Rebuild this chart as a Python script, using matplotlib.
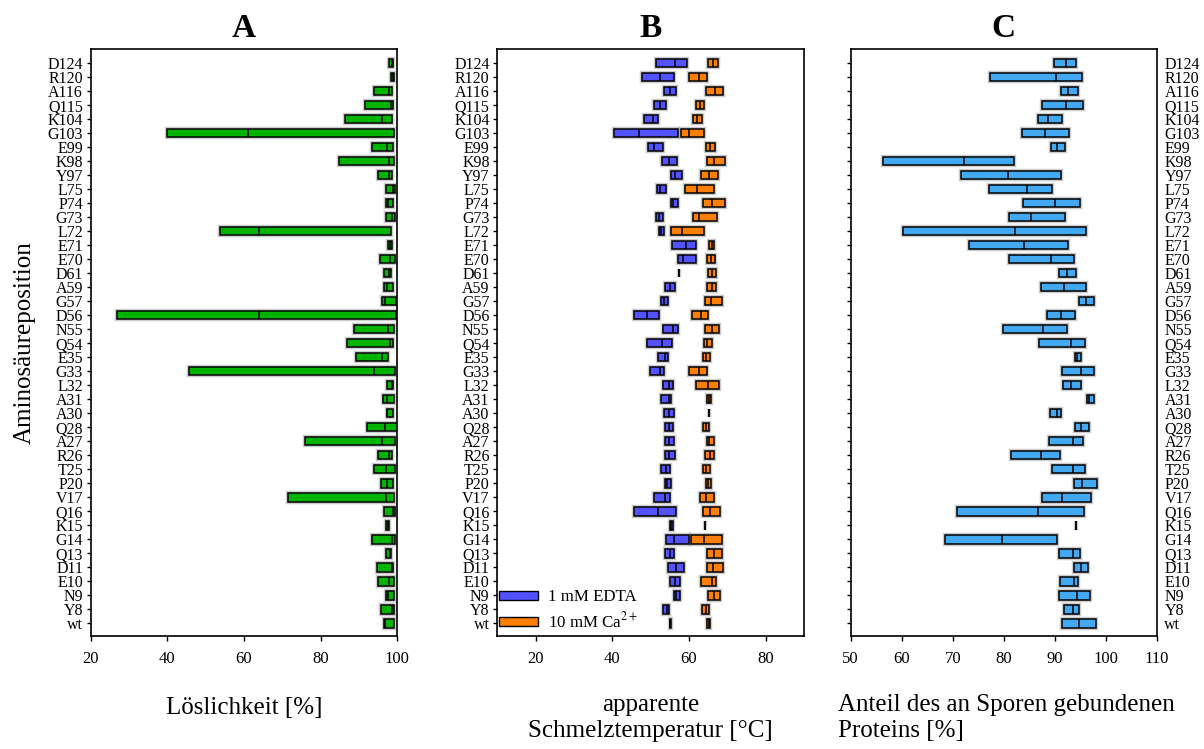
import matplotlib
matplotlib.use("Agg")
import matplotlib.pyplot as plt
import numpy as np

plt.rcParams['font.family'] = ['Liberation Serif', 'DejaVu Serif']
plt.rcParams['mathtext.fontset'] = 'stix'

categories = ["D124","R120","A116","Q115","K104","G103","E99","K98","Y97","L75","P74","G73","L72",
              "E71","E70","D61","A59","G57","D56","N55","Q54","E35","G33","L32","A31","A30","Q28",
              "A27","R26","T25","P20","V17","Q16","K15","G14","Q13","D11","E10","N9","Y8","wt"]

# Panel A: Löslichkeit [%] (low, median, high)
sol_low = [97.8,98.3,93.8,91.7,86.4,39.9,93.3,84.9,95.0,97.0,97.1,97.0,53.8,97.7,95.4,96.4,96.6,95.9,26.9,88.6,87.0,
           89.2,45.6,97.2,96.3,97.2,92.0,76.0,95.0,93.8,95.8,71.6,96.6,97.1,93.5,97.0,94.7,95.0,97.0,95.8,96.4]
sol_med = [98.7,99.0,97.8,98.3,96.0,61.1,97.4,97.9,97.9,98.8,97.5,98.6,63.9,98.2,98.2,97.9,97.3,96.8,63.8,97.5,98.2,
           95.9,93.9,98.6,97.4,97.4,96.9,96.1,97.9,97.0,97.4,97.1,98.9,97.5,98.6,98.0,98.6,97.9,97.6,98.7,96.9]
sol_high = [99.0,99.2,98.6,98.9,98.6,99.1,98.8,99.1,98.6,99.3,99.0,99.3,98.4,98.7,99.5,98.3,98.9,99.6,99.6,99.2,99.0,
            97.7,99.3,99.0,99.1,99.0,99.8,99.3,98.6,99.5,98.8,99.1,99.5,97.8,99.3,98.4,98.8,99.1,99.1,99.2,99.1]

# Panel B: apparent melting temperature, 1 mM EDTA
edta_low = [51.5,47.8,53.6,51.0,48.2,40.4,49.3,53.0,55.3,51.7,55.3,51.3,52.3,55.6,57.1,57.5,53.8,52.6,45.7,53.1,49.1,
            52.0,49.9,53.3,52.7,53.6,53.8,53.7,53.7,52.7,53.8,51.0,45.7,55.1,54.1,53.8,54.4,55.1,56.0,53.3,55.0]
edta_med = [56.4,52.4,55.1,52.4,50.5,47.0,50.8,54.7,56.4,52.5,55.8,52.2,52.8,59.2,58.4,57.5,55.1,53.4,49.1,55.7,53.0,
            53.8,52.4,54.7,54.7,54.8,54.7,54.7,54.8,53.9,54.3,53.7,51.8,55.4,56.0,55.0,56.7,56.4,56.5,54.2,55.1]
edta_high = [59.4,56.2,56.5,53.9,52.0,57.1,53.2,57.0,58.3,54.1,57.1,53.3,53.4,61.8,61.8,57.5,56.3,54.5,52.1,57.2,55.5,
             54.5,53.4,55.9,55.4,56.2,55.7,56.0,56.3,55.1,55.2,55.1,56.5,55.7,59.9,56.1,58.7,57.6,57.7,54.9,55.2]

# Panel B: 10 mM Ca2+
ca_low = [64.9,60.1,64.5,61.9,61.1,57.9,64.4,64.6,63.2,59.0,63.7,61.1,55.4,65.3,64.8,65.0,64.8,64.3,60.8,64.3,64.0,
          63.7,60.1,61.9,64.8,65.3,63.7,64.6,64.3,63.7,64.5,62.8,63.7,64.3,60.5,64.7,64.8,63.1,65.0,63.3,64.8]
ca_med = [66.2,62.5,66.7,62.8,62.1,60.1,65.4,66.4,65.3,62.0,65.9,62.6,58.3,65.9,65.8,66.1,65.9,65.7,63.1,65.9,64.6,
          64.4,62.5,64.9,65.2,65.3,64.5,65.2,65.5,64.5,64.9,64.4,65.5,64.3,63.9,66.6,66.3,65.9,66.5,64.5,65.2]
ca_high = [67.5,64.6,68.8,63.9,63.3,63.8,66.9,69.5,67.5,66.5,69.5,67.2,63.9,66.5,66.9,67.1,67.1,68.7,65.0,67.7,66.1,
           65.4,64.7,67.8,65.8,65.3,65.3,66.4,66.5,65.6,65.7,66.4,68.2,64.3,68.7,68.5,69.0,67.1,68.0,65.3,65.5]

# Panel C: spore-bound protein fraction [%]
bound_low = [89.9,77.4,91.3,87.6,86.8,83.5,89.3,56.4,71.6,77.2,83.8,81.1,60.3,73.1,81.1,90.8,87.3,94.7,88.5,79.9,87.0,
             93.9,91.5,91.7,96.3,89.1,93.9,88.8,81.5,89.5,93.7,87.6,70.9,94.2,68.5,90.9,93.8,91.0,90.9,91.8,91.5]
bound_med = [92.2,90.3,92.7,92.2,88.7,88.0,90.4,72.3,80.9,84.6,90.1,85.4,82.3,84.0,89.3,92.4,91.8,96.2,91.3,87.7,93.1,
             94.4,95.2,93.1,96.7,90.4,95.1,93.5,87.3,93.5,95.4,91.4,86.7,94.2,79.6,93.5,95.2,93.7,94.3,93.5,94.8]
bound_high = [94.2,95.4,94.6,95.6,91.4,92.9,92.1,82.0,91.3,89.4,95.0,92.1,96.2,92.7,93.8,94.2,96.2,97.8,93.9,92.4,96.0,
              95.2,97.8,95.2,97.8,91.3,96.8,95.5,91.0,95.9,98.3,97.1,95.8,94.2,90.5,94.9,96.6,94.6,96.9,94.7,98.0]

series_labels = ["1 mM EDTA", r"10 mM Ca$^{2+}$"]
titles = ["A", "B", "C"]

W, H = 1204, 749
fig = plt.figure(figsize=(W / 100, H / 100), dpi=100)

def fx(px):
    return px / W

def fy(py):
    return 1 - py / H

ax_top, ax_bot = 49.3, 636.0
axA = fig.add_axes([fx(90.7), fy(ax_bot), (397.3 - 90.7) / W, (ax_bot - ax_top) / H])
axB = fig.add_axes([fx(497.3), fy(ax_bot), (804.0 - 497.3) / W, (ax_bot - ax_top) / H])
axC = fig.add_axes([fx(850.7), fy(ax_bot), (1156.7 - 850.7) / W, (ax_bot - ax_top) / H])

n = len(categories)
ypos = np.arange(n)[::-1]
BH = 0.6


def draw(ax, low, med, high, color):
    low = np.array(low); med = np.array(med); high = np.array(high)
    ax.barh(ypos, high - low, left=low, height=BH, color='none',
            edgecolor=(0.5, 0.5, 0.5, 0.4), linewidth=3.2, zorder=2)
    ax.barh(ypos, high - low, left=low, height=BH, color=color,
            edgecolor='black', linewidth=1.1, zorder=3)
    ax.vlines(med, ypos - BH / 2, ypos + BH / 2, color='black', linewidth=1.1, zorder=4)


draw(axA, sol_low, sol_med, sol_high, '#00b400')
draw(axB, edta_low, edta_med, edta_high, '#5252ff')
draw(axB, ca_low, ca_med, ca_high, '#ff8000')
draw(axC, bound_low, bound_med, bound_high, '#42a8f2')

axA.set_xlim(20, 100)
axA.set_xticks([20, 40, 60, 80, 100])
axB.set_xlim(10, 90)
axB.set_xticks([20, 40, 60, 80])
axC.set_xlim(50, 110)
axC.set_xticks([50, 60, 70, 80, 90, 100, 110])

for ax, t in zip([axA, axB, axC], titles):
    ax.set_ylim(-0.9, 40.98)
    ax.set_yticks(ypos)
    ax.set_yticklabels(categories)
    for s in ax.spines.values():
        s.set_linewidth(1.2)
    ax.tick_params(axis='x', direction='out', length=3.5, width=1, pad=7.5, labelsize=12)
    ax.tick_params(axis='y', direction='out', length=3, width=1, labelsize=11.5, pad=2.5)
    ax.set_title(t, fontsize=24, fontweight='bold', pad=9)

axC.tick_params(axis='y', left=True, right=False, labelleft=False, labelright=True, pad=2.6)

# legend in panel B
from matplotlib.patches import Patch
handles = [Patch(facecolor='#5252ff', edgecolor='black', linewidth=1.0),
           Patch(facecolor='#ff8000', edgecolor='black', linewidth=1.0)]
axB.legend(handles, series_labels, loc='lower left', bbox_to_anchor=(0.005, 0.008),
           frameon=False, fontsize=12.2, handlelength=2.3, handleheight=0.4,
           handletextpad=0.6, borderpad=0, borderaxespad=0, labelspacing=0.35)

# axis labels
fig.text(fx(244), fy(708), "Löslichkeit [%]", fontsize=18, ha='center', va='center')
fig.text(fx(650.7), fy(718), "apparente\nSchmelztemperatur [°C]", fontsize=18,
         ha='center', va='center', multialignment='center')
fig.text(fx(838), fy(718), "Anteil des an Sporen gebundenen\nProteins [%]", fontsize=18,
         ha='left', va='center', multialignment='left')
fig.text(fx(25), fy(342.7), "Aminosäureposition", fontsize=18, ha='center', va='center', rotation=90)

fig.savefig("out.png", dpi=100)
